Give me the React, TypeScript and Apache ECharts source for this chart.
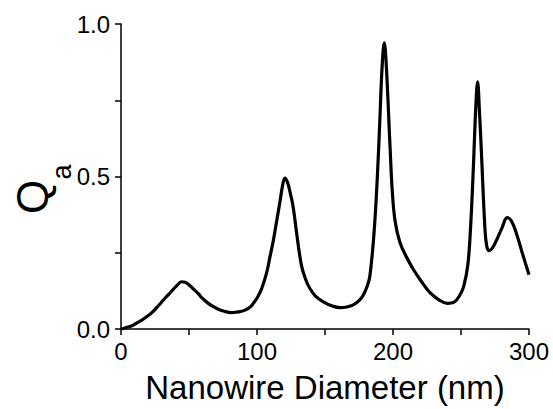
import React, { useEffect, useRef } from "react";
import * as echarts from "echarts";

const diameters = [0, 4, 7.6, 11, 15, 18.5, 22.3, 26, 29.6, 33, 37, 40.5, 44.6, 47, 49.5, 53, 56.8, 60, 64.2, 68, 71.5, 76, 81.4, 84.5, 87.5, 91.2, 95, 97.3, 100.5, 103.4, 107.1, 109.6, 112, 114.5, 116.9, 119, 120.6, 122.5, 124.5, 126.7, 129.2, 132.8, 136, 139, 143, 148.8, 155, 161, 166, 170.8, 175, 178, 181, 183, 186, 188.5, 190.4, 192, 193.6, 195, 197.8, 199.5, 201.5, 205, 210, 215, 221, 227, 234, 240, 245, 249, 252, 255, 257, 259, 261, 262.2, 263.5, 265.2, 267.6, 269, 270.8, 273, 276, 280, 284, 287, 291, 295, 300];
const qa = [0, 0.005, 0.01, 0.018, 0.028, 0.039, 0.052, 0.069, 0.087, 0.104, 0.123, 0.14, 0.155, 0.153, 0.147, 0.132, 0.116, 0.1, 0.084, 0.073, 0.065, 0.058, 0.054, 0.055, 0.057, 0.062, 0.072, 0.084, 0.105, 0.132, 0.185, 0.238, 0.29, 0.355, 0.418, 0.475, 0.495, 0.48, 0.445, 0.397, 0.312, 0.206, 0.16, 0.132, 0.108, 0.089, 0.076, 0.07, 0.072, 0.079, 0.093, 0.11, 0.14, 0.174, 0.312, 0.5, 0.694, 0.86, 0.938, 0.87, 0.6, 0.45, 0.355, 0.285, 0.235, 0.195, 0.155, 0.12, 0.095, 0.084, 0.088, 0.11, 0.14, 0.21, 0.33, 0.52, 0.74, 0.81, 0.72, 0.56, 0.33, 0.27, 0.257, 0.265, 0.29, 0.33, 0.365, 0.355, 0.31, 0.25, 0.178];

const xTicks = [0, 100, 200, 300];
const yTicks = [0, 0.5, 1.0];
const xTitle = "Nanowire Diameter (nm)";

const FONT = "'Liberation Sans', Arial, sans-serif";

export default function App() {
  const ref = useRef<HTMLDivElement>(null);
  useEffect(() => {
    const chart = echarts.init(ref.current!, null, { renderer: "svg" });
    chart.setOption({
      animation: false,
      backgroundColor: "#ffffff",
      grid: { left: 121, right: 24, top: 24, bottom: 71 },
      xAxis: {
        type: "value",
        min: 0,
        max: 300,
        interval: 50,
        splitLine: { show: false },
        axisLine: { show: true, lineStyle: { color: "#000", width: 1.5 } },
        axisTick: { show: true, length: 6, lineStyle: { color: "#000", width: 1.5 } },
        axisLabel: {
          color: "#000",
          fontSize: 24,
          fontFamily: FONT,
          margin: 10,
          formatter: (v: number) => (xTicks.includes(v) ? String(v) : ""),
        },
        name: xTitle,
        nameLocation: "middle",
        nameGap: 42,
        nameTextStyle: { color: "#000", fontSize: 33, fontFamily: FONT },
      },
      yAxis: {
        type: "value",
        min: 0,
        max: 1,
        interval: 0.25,
        splitLine: { show: false },
        axisLine: { show: true, lineStyle: { color: "#000", width: 1.5 } },
        axisTick: { show: true, length: 6, lineStyle: { color: "#000", width: 1.5 } },
        axisLabel: {
          color: "#000",
          fontSize: 24,
          fontFamily: FONT,
          margin: 11,
          formatter: (v: number) =>
            yTicks.some((t) => Math.abs(t - v) < 1e-9) ? v.toFixed(1) : "",
        },
      },
      graphic: [
        {
          type: "text",
          x: 54,
          y: 197,
          rotation: Math.PI / 2,
          style: {
            text: "Q",
            fill: "#000",
            font: `44px ${FONT}`,
            textAlign: "center",
            textVerticalAlign: "bottom",
          },
        },
        {
          type: "text",
          x: 75,
          y: 172,
          rotation: Math.PI / 2,
          style: {
            text: "a",
            fill: "#000",
            font: `27px ${FONT}`,
            textAlign: "center",
            textVerticalAlign: "bottom",
          },
        },
      ],
      series: [
        {
          type: "line",
          data: diameters.map((d, i) => [d, qa[i]]),
          showSymbol: false,
          smooth: 0.4,
          lineStyle: { color: "#000", width: 3.2 },
        },
      ],
    });
    return () => chart.dispose();
  }, []);
  return <div ref={ref} style={{ width: 553, height: 409, position: "absolute", left: 0, top: 0 }} />;
}
